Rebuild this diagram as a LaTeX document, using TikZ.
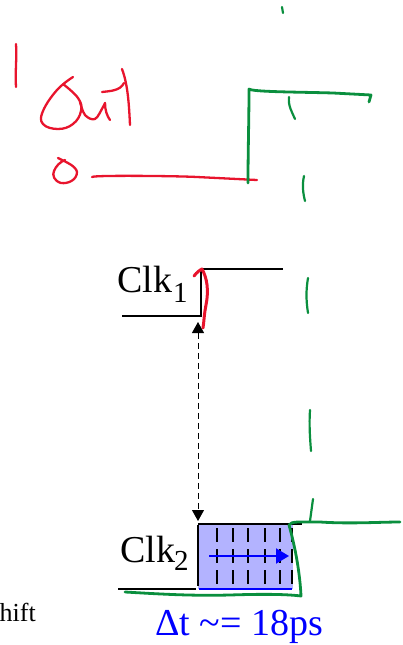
\documentclass[tikz,border=0pt]{standalone}
\usepackage{fontspec}
\setmainfont{Liberation Serif}
\usetikzlibrary{arrows.meta}
\definecolor{inkred}{HTML}{E8142D}
\definecolor{inkgreen}{HTML}{0A8F3E}
\definecolor{paleblue}{HTML}{B3B3FF}
\tikzset{
  redink/.style={inkred,line width=2.3pt,line cap=round,line join=round},
  greenink/.style={inkgreen,line width=2.8pt,line cap=round,line join=round},
  thingreen/.style={inkgreen,line width=2.2pt,line cap=round,line join=round},
  wave/.style={black,line width=2pt},
  tick/.style={black,line width=1.7pt,dash pattern=on 14pt off 7pt},
  label/.style={inner sep=0,anchor=base west,font=\fontsize{38}{38}\selectfont},
  sub/.style={inner sep=0,anchor=base west,font=\fontsize{29}{29}\selectfont}
}
\begin{document}
\begin{tikzpicture}[x=1pt,y=-1pt]
\useasboundingbox (0,0) rectangle (402,645);
\clip (0,0) rectangle (402,645);
% shaded interval
\fill[paleblue] (198,524) rectangle (293,589);
% clock waveforms
\draw[wave] (122,316) -- (201,316) -- (201,270);
\draw[wave] (203,269) -- (283,269);
\draw[wave] (118,588.5) -- (196,588.5);
\draw[wave] (198,525) -- (198,586);
\draw[wave] (198,523.5) -- (302,523.5);
\foreach \x in {216.7,233,248,265,280,292}
  \draw[tick] (\x,528) -- (\x,590);
% dashed arrow
\coordinate (up) at (198,322);
\coordinate (down) at (198,521);
\draw[black,line width=1pt,dash pattern=on 6pt off 4pt,{Triangle[width=12pt,length=11pt]}-{Triangle[width=12pt,length=11pt]}] (up) -- (down);
% blue measure
\draw[blue,line width=1.8pt] (199,589) -- (292,589);
\coordinate (ms) at (209,556);
\coordinate (me) at (289,556);
\draw[blue,line width=2pt,-{Triangle[width=15pt,length=13pt]}] (ms) -- (me);
% texts
\node[label] (clka) at (117,292) {Clk};
\node[sub] (clkas) at (173,302) {1};
\node[label] (clkb) at (120,562) {Clk};
\node[sub] (clkbs) at (174,570) {2};
\node[label,text=blue] (dt) at (155,635) {Δt \char"7E= 18ps};
\node[inner sep=0,anchor=base east,font=\fontsize{26}{26}\selectfont] (shift) at (36,621) {hift};
% red ink
\draw[redink] (16,44) .. controls (17,58) and (15,72) .. (16,87);
\draw[redink] plot[smooth,tension=.7] coordinates {(73,77) (57,90) (43,111) (43,124) (58,129) (73,124) (81,111) (78,98) (63,84)};
\draw[redink] plot[smooth,tension=.6] coordinates {(80,102) (85,115) (95,119) (103,107) (105,103)};
\draw[redink] (105,103) .. controls (105,110) and (107,116) .. (110,120);
\draw[redink] (122,69) .. controls (128,85) and (129,105) .. (130,125);
\draw[redink] (102,92) .. controls (110,91) and (120,91) .. (124,83);
\draw[redink] (58,158) .. controls (66,162) and (76,166) .. (77,172)
  .. controls (77,180) and (68,184) .. (61,183)
  .. controls (54,181) and (52,175) .. (54,171)
  .. controls (56,166) and (60,162) .. (65,160);
\draw[redink] (92,177) .. controls (94,175) and (180,176) .. (197,177) -- (257,180);
\draw[redink,line width=3pt] (194,276) .. controls (197,272) and (200,270) .. (202,269)
  .. controls (207,278) and (209,290) .. (206,305)
  .. controls (204,315) and (204,322) .. (203,328);
% green ink
\draw[greenink] (248,183) .. controls (248,150) and (249,120) .. (249,89)
  .. controls (252,92) and (300,92) .. (333,93) -- (371,95) -- (369,102);
\draw[thingreen] (282,7) -- (283,13);
\draw[thingreen] (289,97) .. controls (288,106) and (292,112) .. (295,119);
\draw[thingreen] (304,176) .. controls (302,185) and (303,193) .. (305,201);
\draw[thingreen] (308,278) .. controls (306,290) and (306,300) .. (308,313);
\draw[thingreen] (310,410) .. controls (309,425) and (310,438) .. (311,451);
\draw[thingreen] (313,499) -- (310,521);
\draw[greenink] (125,592) .. controls (160,594) and (190,596) .. (230,595)
  .. controls (260,594) and (285,594) .. (301,596)
  .. controls (300,575) and (296,550) .. (289,525)
  .. controls (291,521) and (300,522) .. (320,522)
  .. controls (350,524) and (380,522) .. (400,522);
\end{tikzpicture}
\end{document}
